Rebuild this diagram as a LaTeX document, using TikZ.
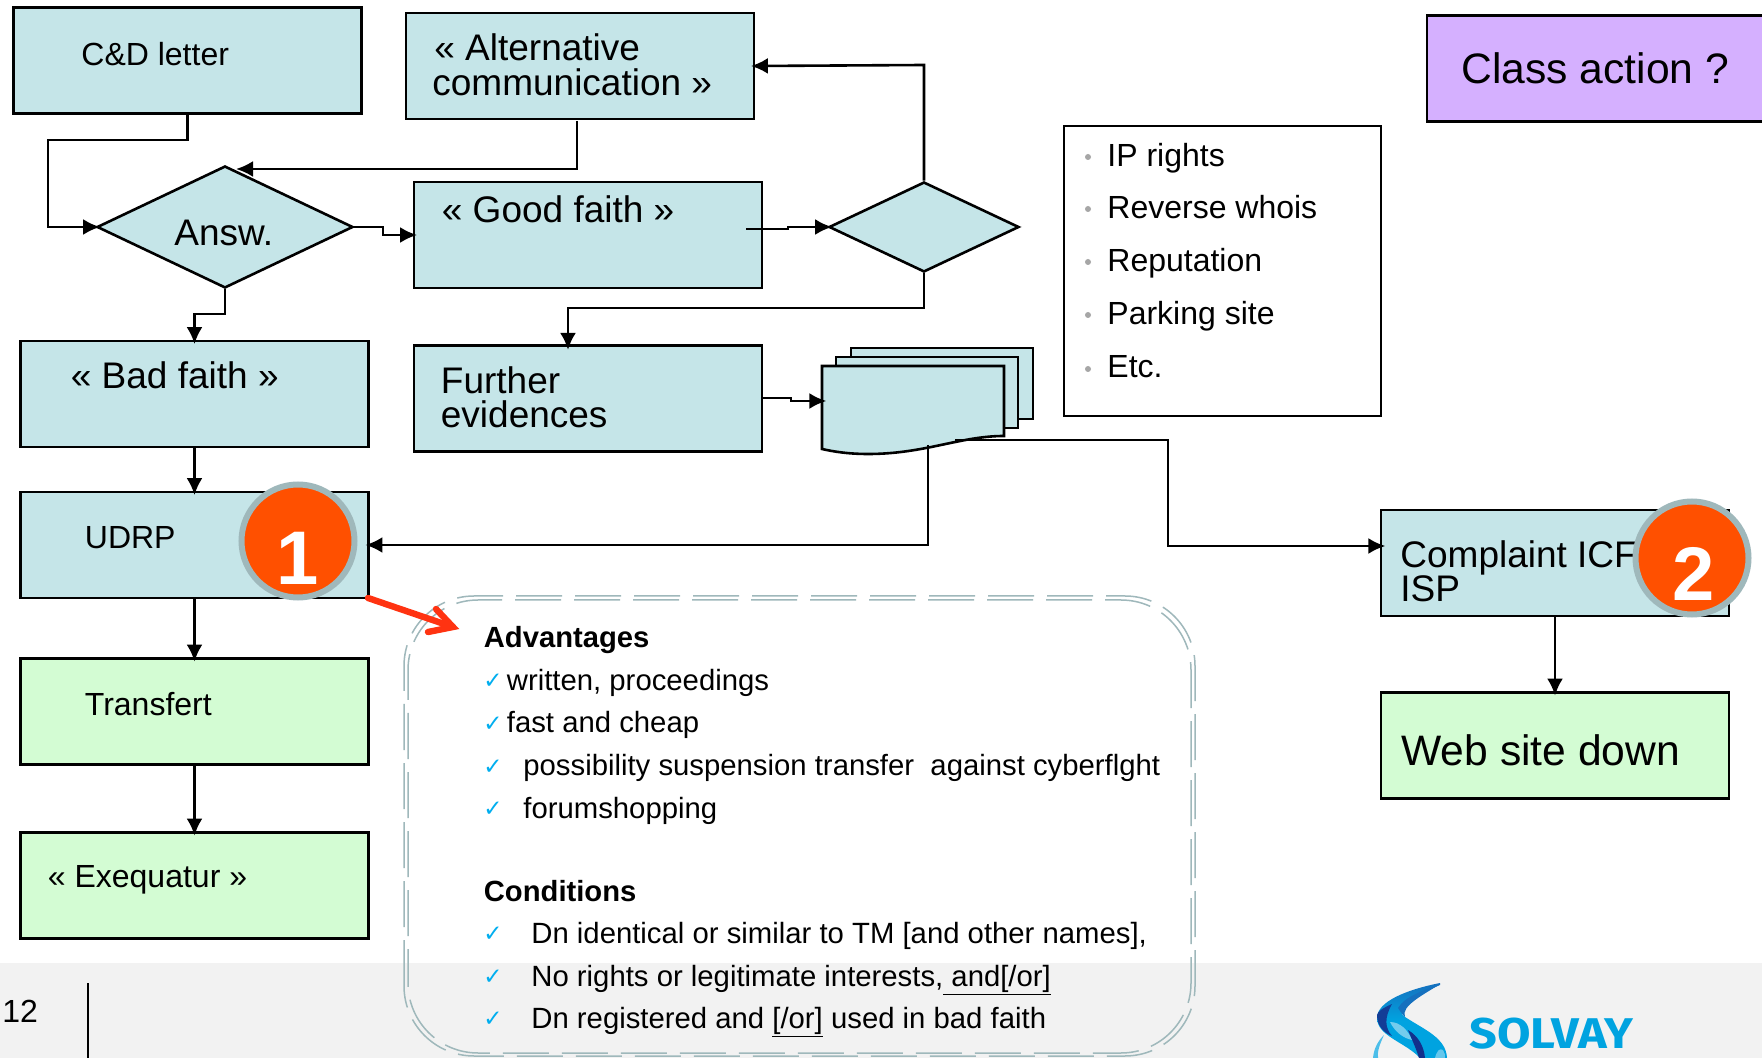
\documentclass[tikz,border=0pt]{standalone}
\usepackage{fontspec}
\setmainfont{Liberation Sans}
\newfontfamily\markfont{DejaVu Sans}
\newfontfamily\logofont[FakeStretch=1.13]{Fira Sans}
\usetikzlibrary{arrows.meta,shapes.geometric}
\definecolor{tealfill}{HTML}{C5E5E8}
\definecolor{greenfill}{HTML}{D3FCD3}
\definecolor{purplefill}{HTML}{D5B0FF}
\definecolor{footgrey}{HTML}{F2F2F2}
\definecolor{dashgrey}{HTML}{9FB8BB}
\definecolor{badgefill}{HTML}{FF5000}
\definecolor{redarrow}{HTML}{FF3311}
\definecolor{tickblue}{HTML}{00AEEF}
\definecolor{logoblue}{HTML}{00A3E0}
\definecolor{logodark}{HTML}{12308C}
\definecolor{logomid}{HTML}{1570BE}
\tikzset{
  x=0.5pt,y=-0.5pt,
  flowbox/.style={draw=black,line width=1.3pt,inner sep=0pt,minimum width=174pt,minimum height=53pt},
  tealbox/.style={flowbox,fill=tealfill},
  greenbox/.style={flowbox,fill=greenfill},
  decision/.style={shape=diamond,draw=black,line width=1.3pt,fill=tealfill,inner sep=0pt},
  conn/.style={draw=black,line width=1.3pt,shorten >=-2.2pt,-{Latex[length=8.5pt,width=8pt]}},
  txt/.style={anchor=base west,inner sep=0pt,text=black,yshift=-1pt},
  big/.style={txt,font=\fontsize{18.5}{18.5}\selectfont},
  mid/.style={txt,font=\fontsize{16}{16}\selectfont},
  huge/.style={txt,font=\fontsize{21.3}{21.3}\selectfont},
  small/.style={txt,font=\fontsize{14.65}{14.65}\selectfont},
  smallb/.style={txt,font=\fontsize{14.6}{14.6}\selectfont\bfseries},
  tick/.style={anchor=base west,inner sep=0pt,text=tickblue,font=\fontsize{11.5}{11.5}\markfont},
  dot/.style={circle,fill=gray!70,inner sep=0pt,minimum size=3pt},
  badge/.style={circle,draw=dashgrey,line width=3pt,fill=badgefill,minimum size=56.5pt,inner sep=0pt},
  badgenum/.style={anchor=base,inner sep=0pt,text=white,font=\fontsize{38}{38}\selectfont\bfseries},
  dashline/.style={draw=dashgrey,line width=0.75pt,dash pattern=on 23pt off 6.5pt,rounded corners=35pt},
  redline/.style={redarrow,line width=3.2pt,line cap=round,line join=miter}
}
\begin{document}
\begin{tikzpicture}
\useasboundingbox (0,0) rectangle (1762,1058);
\clip (0,0) rectangle (1762,1058);
\fill[white] (0,0) rectangle (1762,1058);
\fill[footgrey] (0,963) rectangle (1762,1058);
\draw[black,line width=1.1pt] (88,983) -- (88,1058);
\node[mid] (pagenum) at (2,1020) {12};

% boxes
\node[tealbox] (cd) at (187.25,60.75) {};
\node[tealbox] (alt) at (580,66) {};
\node[decision,aspect=2.1,minimum width=128pt,minimum height=61pt] (answ) at (225,227) {};
\node[tealbox] (good) at (588,235) {};
\node[decision,aspect=2.1,minimum width=95pt,minimum height=45pt] (dec) at (924,227) {};
\node[tealbox] (bad) at (194.5,394) {};
\node[tealbox] (further) at (588,398.5) {};
\node[tealbox] (udrp) at (194.5,545) {};
\node[greenbox] (transf) at (194.5,711.5) {};
\node[greenbox] (exeq) at (194.5,885.5) {};
\node[tealbox] (compl) at (1555,563) {};
\node[greenbox] (web) at (1555,745.5) {};
\node[flowbox,fill=purplefill,minimum width=174pt] (classa) at (1601,68.25) {};
\node[draw=black,line width=1.3pt,fill=white,inner sep=0pt,minimum width=158.5pt,minimum height=145pt] (iplist) at (1222.5,271) {};

% document stack
\node[draw=black,line width=1.3pt,fill=tealfill,inner sep=0pt,minimum width=91pt,minimum height=35.5pt] (docc) at (942,383.5) {};
\node[draw=black,line width=1.3pt,fill=tealfill,inner sep=0pt,minimum width=91pt,minimum height=35.5pt] (docb) at (927,392.5) {};
\draw[black,line width=1.3pt,fill=tealfill] (822,366) -- (1004,366) -- (1004,436)
  .. controls (960,436) and (925,454) .. (868,454)
  .. controls (850,454) and (835,452) .. (822,449) -- cycle;
\coordinate (docw) at (822,401);
\coordinate (docl) at (928,445);
\coordinate (docr) at (955,440);

% connectors
\coordinate (cdbend) at (48,140);
\draw[conn] (cd.south) |- (cdbend) -- (48,227) -- (answ.west);
\coordinate (altstart) at (577,121);
\coordinate (altend) at (236,169);
\draw[conn,shorten >=0pt] (altstart) |- (altend);
\draw[conn] (answ.east) -- (383,227) -- (383,235) -- (good.west);
\coordinate (goodout) at (746,229);
\draw[conn] (goodout) -- (788,229) -- (788,227) -- (dec.west);
\draw[conn] (answ.south) -- (225,314) -- (194.5,314) -- (bad.north);
\draw[conn] (dec.north) -- (924,65) -- (alt.east);
\draw[conn] (dec.south) -- (924,308) -- (568,308) -- (568,345.5);
\draw[conn] (further.east) ++(0,-0.5) -- (791,398) -- (791,401) -- (docw);
\draw[conn] (bad.south) -- (udrp.north);
\draw[conn] (udrp.south) -- (transf.north);
\draw[conn] (transf.south) -- (exeq.north);
\draw[conn] (docl) -- (928,545) -- (udrp.east);
\draw[conn] (docr) -- (1168,440) -- (1168,546) -- (1381,546);
\draw[conn] (compl.south) -- (web.north);

% dashed frame
\draw[dashline] (404,1056) rectangle (1195,596);
\draw[dashline,dash phase=6pt] (408,1053) rectangle (1191,600);

% red arrow
\coordinate (redstart) at (368,598);
\coordinate (redtip) at (453,627);
\draw[redline] (redstart) -- (redtip);
\draw[redline] (436,609) -- (redtip) -- (428,632);

% box texts
\node[mid] (tcd) at (81,64) {C\&D letter};
\node[big] (talt1) at (434,59) {« Alternative};
\node[big] (talt2) at (432,94) {communication »};
\node[txt,font=\fontsize{18.5}{18.5}\selectfont] (tansw) at (174,244) {Answ.};
\node[big] (tgood) at (441.5,221) {« Good faith »};
\node[big] (tbad) at (70.5,387) {« Bad faith »};
\node[big] (tfur1) at (440.5,392) {Further};
\node[big] (tfur2) at (440.5,426) {evidences};
\node[mid] (tudrp) at (84.5,547) {UDRP};
\node[mid] (ttrans) at (84.5,713) {Transfert};
\node[mid] (texeq) at (47.5,885) {« Exequatur »};
\node[big] (tcom1) at (1400,566) {Complaint ICF};
\node[big] (tcom2) at (1400,600) {ISP};
\node[huge] (tweb) at (1401,763) {Web site down};
\node[huge] (tclass) at (1461,82) {Class action ?};

% list
\node[dot] (d1) at (1088,157) {};
\node[dot] (d2) at (1088,209) {};
\node[dot] (d3) at (1088,262) {};
\node[dot] (d4) at (1088,315) {};
\node[dot] (d5) at (1088,369) {};
\node[mid] (l1) at (1107,164.5) {IP rights};
\node[mid] (l2) at (1107,216.5) {Reverse whois};
\node[mid] (l3) at (1107,269.5) {Reputation};
\node[mid] (l4) at (1107,322.5) {Parking site};
\node[mid] (l5) at (1107,376) {Etc.};

% advantages
\node[smallb] (adv) at (483.5,646) {Advantages};
\node[tick] (t1) at (483,689) {✓};
\node[small] (a1) at (506.5,688) {written, proceedings};
\node[tick] (t2) at (483,732) {✓};
\node[small] (a2) at (506.5,731) {fast and cheap};
\node[tick] (t3) at (483,774) {✓};
\node[small] (a3) at (523,774) {possibility suspension transfer\ \ against cyberflght};
\node[tick] (t4) at (483,816) {✓};
\node[small] (a4) at (523,816) {forumshopping};
\node[smallb] (cond) at (483.5,899) {Conditions};
\node[tick] (t5) at (483,941) {✓};
\node[small] (c1) at (531,941) {Dn identical or similar to TM [and other names],};
\node[tick] (t6) at (483,984) {✓};
\node[small] (c2) at (531,984) {No rights or legitimate interests,\underline{\ and[/or]}};
\node[tick] (t7) at (483,1026) {✓};
\node[small] (c3) at (531,1026) {Dn registered and \underline{[/or]} used in bad faith};

% badges
\node[badge] (b1) at (298,541) {};
\node[badgenum] (n1) at (298,585) {1};
\node[badge] (b2) at (1692,558) {};
\node[badgenum] (n2) at (1694,601) {2};

% logo
\shade[top color=logomid,bottom color=logoblue,middle color=logoblue] (1440,983)
  .. controls (1405,990) and (1377,1002) .. (1377,1018)
  .. controls (1377,1036) and (1405,1042) .. (1420,1058)
  -- (1447,1058) .. controls (1446,1038) and (1425,1030) .. (1405,1017)
  .. controls (1395,1010) and (1405,1000) .. (1440,985) -- cycle;
\fill[logodark!80!logomid] (1377,1015) .. controls (1377,1026) and (1384,1033) .. (1392,1036)
  .. controls (1385,1028) and (1384,1018) .. (1392,1004) .. controls (1383,1008) and (1378,1011) .. (1377,1015) -- cycle;
\fill[logomid] (1440,984) .. controls (1425,990) and (1405,996) .. (1398,1008)
  .. controls (1402,1014) and (1403,1015) .. (1405,1017) .. controls (1400,1006) and (1425,994) .. (1440,984) -- cycle;
\fill[white,opacity=0.45] (1390,1022) .. controls (1400,1022) and (1408,1030) .. (1412,1040)
  .. controls (1403,1038) and (1395,1032) .. (1390,1022) -- cycle;
\fill[logodark] (1408,1030) .. controls (1418,1036) and (1424,1046) .. (1425,1058)
  -- (1419,1058) .. controls (1416,1048) and (1412,1040) .. (1408,1030) -- cycle;
\fill[white,opacity=0.4] (1435,1058) .. controls (1437,1050) and (1440,1048) .. (1443,1050)
  .. controls (1445,1053) and (1445,1055) .. (1445,1058) -- cycle;
\fill[logoblue!70] (1373,1058) .. controls (1374,1048) and (1378,1041) .. (1384,1035)
  .. controls (1380,1044) and (1377,1051) .. (1378,1058) -- cycle;
\node[anchor=base west,inner sep=0pt,text=logoblue,font=\fontsize{21.5}{21.5}\logofont\bfseries] (logotext) at (1469,1048) {SOLVAY};
\end{tikzpicture}
\end{document}
